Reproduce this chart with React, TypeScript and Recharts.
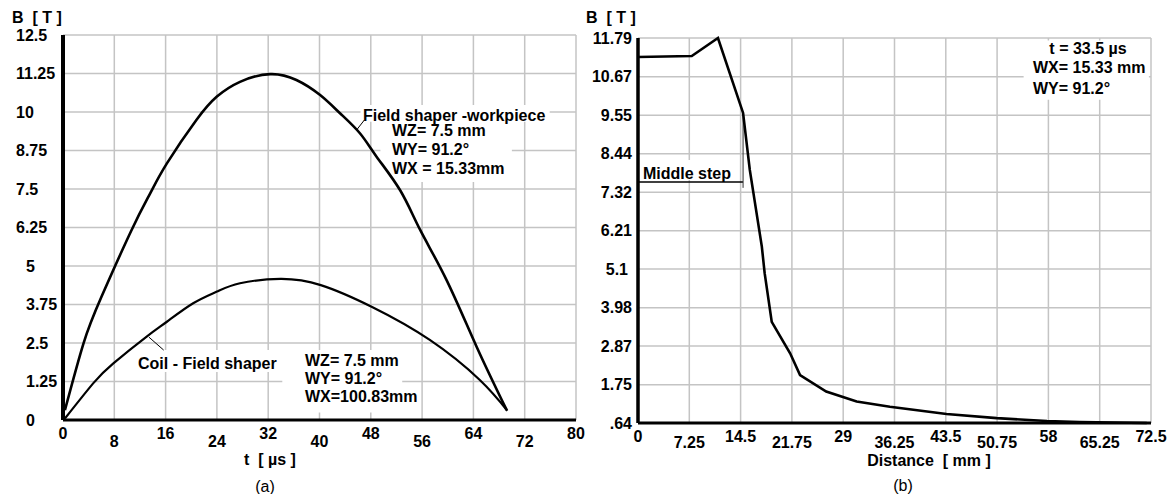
import React from 'react';
import { LineChart, Line, XAxis, YAxis, CartesianGrid, ReferenceArea, ReferenceLine } from 'recharts';

// ---- Chart (a) ----
const tTicks = [0, 8, 16, 24, 32, 40, 48, 56, 64, 72, 80];
const bTicksA = [0, 1.25, 2.5, 3.75, 5, 6.25, 7.5, 8.75, 10, 11.25, 12.5];
const fswT = [0.3, 3.2, 6.0, 10.7, 13.6, 16.2, 20.8, 24.0, 27.6, 32.3, 36.4, 40.1, 43.2, 46.3, 48.9, 52.6, 55.7, 59.8, 64.5, 69.2];
const fswB = [0.32, 2.49, 4.0, 6.17, 7.36, 8.33, 9.74, 10.5, 10.98, 11.23, 11.04, 10.55, 9.96, 9.31, 8.55, 7.45, 6.17, 4.55, 2.38, 0.32];
const coilT = [0.3, 4.7, 7.85, 13.0, 16.2, 20.3, 24.0, 27.6, 33.9, 40.2, 48.2, 57.2, 65.0, 69.3];
const coilB = [0.05, 1.19, 1.84, 2.7, 3.19, 3.79, 4.17, 4.44, 4.58, 4.38, 3.67, 2.6, 1.3, 0.3];

// ---- Chart (b) ----
const distTicks = [0, 7.25, 14.5, 21.75, 29, 36.25, 43.5, 50.75, 58, 65.25, 72.5];
const bTicksB = [0.64, 1.75, 2.87, 3.98, 5.1, 6.21, 7.32, 8.44, 9.55, 10.67, 11.79];
const bTickLabelsB = ['.64', '1.75', '2.87', '3.98', '5.1', '6.21', '7.32', '8.44', '9.55', '10.67', '11.79'];
const distD = [0, 7.6, 11.3, 14.85, 15.8, 17.5, 17.9, 18.9, 21.5, 22.9, 26.6, 30.9, 35.6, 43.6, 50.7, 57.8, 62.4, 71.9];
const distB = [11.24, 11.27, 11.79, 9.62, 7.97, 5.75, 4.98, 3.57, 2.66, 2.03, 1.55, 1.26, 1.11, 0.9, 0.78, 0.7, 0.67, 0.64];

const fswData = fswT.map((t, i) => ({ t, b: fswB[i] }));
const coilData = coilT.map((t, i) => ({ t, b: coilB[i] }));
const distData = distD.map((d, i) => ({ d, b: distB[i] }));

const FONT = '"Liberation Sans", Arial, Helvetica, sans-serif';
const GRID = '#c4c4c4';

const txt = (x: number, y: number, s: string, opts: any = {}) => (
  <text
    x={x}
    y={y}
    fontFamily={FONT}
    fontSize={16}
    fontWeight={opts.normal ? 'normal' : 'bold'}
    textAnchor={opts.anchor || 'start'}
    dominantBaseline="central"
    fill="#000"
    style={{ whiteSpace: 'pre' }}
  >
    {s}
  </text>
);

const XTickA = (props: any) => {
  const { x, y, payload } = props;
  const i = tTicks.indexOf(payload.value);
  return txt(x, y + (i % 2 ? 21 : 13), String(payload.value), { anchor: 'middle' });
};

const YTickA = (props: any) => {
  const { x, y, payload } = props;
  const v = payload.value;
  return txt(v >= 6.25 ? x - 47 : x - 37, y, String(v));
};

const XTickB = (props: any) => {
  const { x, y, payload } = props;
  const i = distTicks.indexOf(payload.value);
  return txt(x, y + (i % 2 ? 19 : 13), String(payload.value), { anchor: 'middle' });
};

const YTickB = (props: any) => {
  const { x, y, payload } = props;
  const i = bTicksB.indexOf(payload.value);
  const label = bTickLabelsB[i];
  return txt(x - (label.length === 3 && label[0] !== '.' ? 10 : 6), y, label, { anchor: 'end' });
};

export default function App() {
  return (
    <div style={{ position: 'absolute', left: 0, top: 0, width: 1172, height: 494, background: '#fff' }}>
      <div style={{ position: 'absolute', left: 0, top: 0 }}>
        <LineChart width={586} height={494} margin={{ top: 35, right: 10, bottom: 0, left: 0 }}>
          <CartesianGrid stroke={GRID} strokeWidth={1.5} />
          <XAxis
            type="number"
            dataKey="t"
            domain={[0, 80]}
            ticks={tTicks}
            interval={0}
            height={74}
            tickLine={false}
            tickSize={0}
            tickMargin={0}
            axisLine={{ stroke: '#000', strokeWidth: 3 }}
            tick={XTickA}
          />
          <YAxis
            type="number"
            domain={[0, 12.5]}
            ticks={bTicksA}
            interval={0}
            width={63}
            tickLine={false}
            tickSize={0}
            tickMargin={0}
            axisLine={{ stroke: '#000', strokeWidth: 4 }}
            tick={YTickA}
          />
          <ReferenceArea x1={46.4} x2={75.9} y1={9.68} y2={10.23} fill="#fff" fillOpacity={1} stroke="none" />
          <ReferenceArea x1={49.5} x2={70} y1={7.73} y2={9.68} fill="#fff" fillOpacity={1} stroke="none" />
          <ReferenceArea x1={11.4} x2={34.2} y1={1.56} y2={2.27} fill="#fff" fillOpacity={1} stroke="none" />
          <ReferenceArea x1={34.2} x2={52.9} y1={0.24} y2={2.27} fill="#fff" fillOpacity={1} stroke="none" />
          <ReferenceArea x1={52.9} x2={55.5} y1={0.24} y2={1.0} fill="#fff" fillOpacity={1} stroke="none" />
          <ReferenceLine segment={[{ x: 47.0, y: 9.74 }, { x: 45.8, y: 9.42 }]} stroke="#000" strokeWidth={1} />
          <ReferenceLine segment={[{ x: 13.4, y: 2.69 }, { x: 15.7, y: 2.27 }]} stroke="#000" strokeWidth={1} />
          <Line data={fswData} dataKey="b" type="natural" stroke="#000" strokeWidth={2.6} dot={false} isAnimationActive={false} />
          <Line data={coilData} dataKey="b" type="natural" stroke="#000" strokeWidth={2.2} dot={false} isAnimationActive={false} />
        </LineChart>
      </div>
      <div style={{ position: 'absolute', left: 586, top: 0 }}>
        <LineChart width={586} height={494} margin={{ top: 38, right: 21, bottom: 0, left: 0 }}>
          <CartesianGrid stroke={GRID} strokeWidth={1.5} />
          <XAxis
            type="number"
            dataKey="d"
            domain={[0, 72.5]}
            ticks={distTicks}
            interval={0}
            height={71}
            tickLine={false}
            tickSize={0}
            tickMargin={0}
            axisLine={{ stroke: '#000', strokeWidth: 3 }}
            tick={XTickB}
          />
          <YAxis
            type="number"
            domain={[0.64, 11.79]}
            ticks={bTicksB}
            interval={0}
            width={52}
            tickLine={false}
            tickSize={0}
            tickMargin={0}
            axisLine={{ stroke: '#000', strokeWidth: 3.5 }}
            tick={YTickB}
          />
          <ReferenceArea x1={0.7} x2={14.0} y1={7.68} y2={8.26} fill="#fff" fillOpacity={1} stroke="none" />
          <ReferenceArea x1={54.5} x2={72.2} y1={10.0} y2={11.72} fill="#fff" fillOpacity={1} stroke="none" />
          <ReferenceLine segment={[{ x: 0, y: 7.62 }, { x: 14.85, y: 7.62 }]} stroke="#000" strokeWidth={1.6} />
          <ReferenceLine segment={[{ x: 14.85, y: 9.6 }, { x: 14.85, y: 7.45 }]} stroke="#333" strokeWidth={1} />
          <Line data={distData} dataKey="b" type="linear" stroke="#000" strokeWidth={2.6} dot={false} isAnimationActive={false} />
        </LineChart>
      </div>
      <svg width={1172} height={494} style={{ position: 'absolute', left: 0, top: 0, pointerEvents: 'none' }}>
        {txt(12, 17, 'B  [ T ]')}
        {txt(586, 17, 'B  [ T ]')}
        {txt(270, 459, 't  [ µs ]', { anchor: 'middle' })}
        {txt(265, 486, '(a)', { anchor: 'middle', normal: true })}
        {txt(929, 460, 'Distance  [ mm ]', { anchor: 'middle' })}
        {txt(903, 485, '(b)', { anchor: 'middle', normal: true })}
        {txt(363, 115, 'Field shaper -workpiece')}
        {txt(392, 130, 'WZ= 7.5 mm')}
        {txt(392, 149, 'WY= 91.2°')}
        {txt(392, 168, 'WX = 15.33mm')}
        {txt(138, 363, 'Coil - Field shaper')}
        {txt(305, 360, 'WZ= 7.5 mm')}
        {txt(305, 378, 'WY= 91.2°')}
        {txt(305, 396, 'WX=100.83mm')}
        {txt(643, 173, 'Middle step')}
        {txt(1088, 48, 't = 33.5 µs', { anchor: 'middle' })}
        {txt(1033, 67, 'WX= 15.33 mm')}
        {txt(1033, 88, 'WY= 91.2°')}
      </svg>
    </div>
  );
}
